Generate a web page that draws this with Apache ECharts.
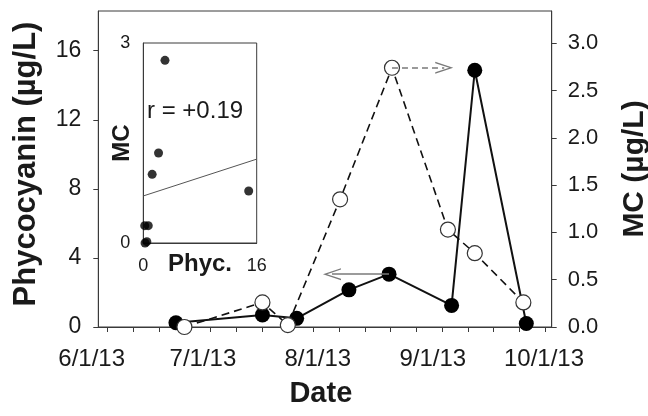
<!DOCTYPE html>
<html><head><meta charset="utf-8">
<script src="https://cdn.jsdelivr.net/npm/echarts@6/dist/echarts.min.js"></script>
<style>html,body{margin:0;padding:0;background:#fff}#c{width:648px;height:416px}</style>
</head><body><div id="c"></div>
<script>
// ---- data (days counted from 6/1/13) ----
const dateTickLabels = ['6/1/13', '7/1/13', '8/1/13', '9/1/13', '10/1/13'];
const dateTickDays = [0, 30, 61, 92, 122];
const weekTickDays = [3.75, 10.75, 17.75, 24.75, 31.75, 38.75, 45.75, 52.75, 59.75,
                      66.75, 73.75, 80.75, 87.75, 94.75, 101.75, 108.75, 115.75, 122.75];
const phycDays = [22.4, 45.9, 55.2, 69.4, 80.3, 97.3, 103.6, 117.6];
const phycValues = [0.25, 0.7, 0.5, 2.15, 3.06, 1.25, 14.87, 0.2];
const mcDays = [24.7, 45.9, 52.8, 67.0, 81.1, 96.3, 103.6, 116.8];
const mcValues = [0.0, 0.26, 0.02, 1.35, 2.74, 1.03, 0.78, 0.26];
const leftTicks = [0, 4, 8, 12, 16];
const rightTicks = [0, 0.5, 1.0, 1.5, 2.0, 2.5, 3.0];
const insetXTicks = [0, 16];
const insetYTicks = [0, 3];
const corrText = 'r = +0.19';
// arrows: start at a data point, end at a date (day)
const phycArrow = {pointIndex: 4, endDay: 64.8};
const mcArrow = {pointIndex: 4, endDay: 95.3};

const FONT = 'Liberation Sans, Arial, sans-serif';
const TXT = '#1a1a1a';
const AX = '#3a3a3a';

const phycData = phycDays.map((d, i) => [d, phycValues[i]]);
const mcData = mcDays.map((d, i) => [d, mcValues[i]]);
const insetData = phycValues.map((p, i) => [p, mcValues[i]]);

// least-squares trend line for the inset
const n = insetData.length;
const mx = insetData.reduce((s, p) => s + p[0], 0) / n;
const my = insetData.reduce((s, p) => s + p[1], 0) / n;
let sxy = 0, sxx = 0;
insetData.forEach(p => { sxy += (p[0] - mx) * (p[1] - my); sxx += (p[0] - mx) * (p[0] - mx); });
const slope = sxy / sxx, icpt = my - slope * mx;
const trend = [[0, icpt], [16, icpt + slope * 16]];

const chevron = 'path://M0,14 L6,0 L12,14 L10.6,14 L6,3.2 L1.4,14 Z';

const chart = echarts.init(document.getElementById('c'), null, {renderer: 'canvas'});
chart.setOption({
  animation: false,
  backgroundColor: '#fff',
  textStyle: {fontFamily: FONT, color: TXT},
  grid: [
    {left: 98.3, right: 96.3, top: 11, bottom: 89, show: true, borderColor: AX, borderWidth: 1,
     containLabel: false, outerBoundsMode: 'none'},
    {left: 91.7, right: 104, top: 11, bottom: 89, containLabel: false, outerBoundsMode: 'none'},
    {left: 143.3, right: 391.3, top: 43, bottom: 173, show: true, borderColor: AX, borderWidth: 1,
     backgroundColor: '#fff', containLabel: false, outerBoundsMode: 'none'}
  ],
  xAxis: [
    {gridIndex: 0, type: 'value', min: 1.3, max: 124.5,
     axisLine: {show: true, lineStyle: {color: AX, width: 1}},
     axisTick: {show: true, customValues: weekTickDays, length: 5, inside: false, lineStyle: {color: AX}},
     axisLabel: {show: false}, splitLine: {show: false}},
    {gridIndex: 1, type: 'value', min: 0, max: 122,
     axisLine: {show: false}, axisTick: {show: false}, splitLine: {show: false},
     axisLabel: {show: true, customValues: dateTickDays, margin: 20,
       fontSize: 24, fontFamily: FONT, color: TXT,
       formatter: v => dateTickLabels[dateTickDays.indexOf(v)] || ''},
     name: 'Date', nameLocation: 'middle', nameGap: 52, nameMoveOverlap: false,
     nameTextStyle: {fontSize: 29, fontWeight: 'bold', fontFamily: FONT, color: TXT, padding: [0, 0, 0, 6]}},
    {gridIndex: 2, type: 'value', min: 0, max: 16,
     axisLine: {show: true, lineStyle: {color: AX}}, axisTick: {show: false}, splitLine: {show: false},
     axisLabel: {customValues: insetXTicks, margin: 14, fontSize: 18, fontFamily: FONT, color: TXT},
     name: 'Phyc.', nameLocation: 'middle', nameGap: 9, nameMoveOverlap: false,
     nameTextStyle: {fontSize: 24, fontWeight: 'bold', fontFamily: FONT, color: TXT}}
  ],
  yAxis: [
    {gridIndex: 0, type: 'value', position: 'left', min: 0, max: 18.3,
     axisLine: {show: true, lineStyle: {color: AX}},
     axisTick: {show: true, customValues: leftTicks, length: 5, lineStyle: {color: AX}},
     axisLabel: {customValues: leftTicks, margin: 17, fontSize: 23, fontFamily: FONT, color: TXT},
     splitLine: {show: false},
     name: 'Phycocyanin (\u00b5g/L)', nameLocation: 'middle', nameRotate: 90, nameGap: 56, nameMoveOverlap: false,
     nameTextStyle: {fontSize: 31, fontWeight: 'bold', fontFamily: FONT, color: TXT, padding: [0, 0, 0, 10]}},
    {gridIndex: 0, type: 'value', position: 'right', min: 0, max: 3.34,
     axisLine: {show: true, lineStyle: {color: AX}},
     axisTick: {show: true, customValues: rightTicks, length: 5, lineStyle: {color: AX}},
     axisLabel: {customValues: rightTicks, margin: 16, fontSize: 22, fontFamily: FONT, color: TXT,
       formatter: v => v.toFixed(1)},
     splitLine: {show: false},
     name: 'MC (\u00b5g/L)', nameLocation: 'middle', nameRotate: 90, nameGap: 68, nameMoveOverlap: false,
     nameTextStyle: {fontSize: 30, fontWeight: 'bold', fontFamily: FONT, color: TXT}},
    {gridIndex: 2, type: 'value', min: 0, max: 3,
     axisLine: {show: true, lineStyle: {color: AX}}, axisTick: {show: false}, splitLine: {show: false},
     axisLabel: {customValues: insetYTicks, margin: 13, fontSize: 18, fontFamily: FONT, color: TXT},
     name: 'MC', nameLocation: 'middle', nameRotate: 90, nameGap: 9, nameMoveOverlap: false,
     nameTextStyle: {fontSize: 24, fontWeight: 'bold', fontFamily: FONT, color: TXT}},
    {gridIndex: 1, type: 'value', show: false, min: 0, max: 1}
  ],
  series: [
    {name: 'Phycocyanin', type: 'line', xAxisIndex: 0, yAxisIndex: 0, data: phycData,
     symbol: 'circle', symbolSize: 15, z: 3,
     itemStyle: {color: '#000'}, lineStyle: {color: '#111', width: 2},
     markLine: {silent: true, symbol: ['none', chevron], symbolSize: [12, 18], label: {show: false},
       lineStyle: {color: '#7a7a7a', width: 1.6, type: 'solid'},
       data: [[{coord: phycData[phycArrow.pointIndex]}, {coord: [phycArrow.endDay, phycData[phycArrow.pointIndex][1]]}]]}},
    {name: 'MC', type: 'line', xAxisIndex: 0, yAxisIndex: 1, data: mcData,
     symbol: 'circle', symbolSize: 15, z: 4,
     itemStyle: {color: '#fff', borderColor: '#333', borderWidth: 1.2},
     lineStyle: {color: '#111', width: 1.6, type: [8, 5]},
     markLine: {silent: true, symbol: ['none', chevron], symbolSize: [12, 18], label: {show: false},
       lineStyle: {color: '#7a7a7a', width: 1.6, type: [6, 4]},
       data: [[{coord: mcData[mcArrow.pointIndex]}, {coord: [mcArrow.endDay, mcData[mcArrow.pointIndex][1]]}]]}},
    {name: 'inset', type: 'scatter', xAxisIndex: 2, yAxisIndex: 2, data: insetData,
     symbol: 'circle', symbolSize: 9, itemStyle: {color: '#000'}, z: 5},
    {name: 'trend', type: 'line', xAxisIndex: 2, yAxisIndex: 2, data: trend,
     showSymbol: false, lineStyle: {color: '#555', width: 1}, z: 4}
  ],
  graphic: [
    {type: 'text', left: 147, top: 99, z: 10,
     style: {text: corrText, fontSize: 24, fontFamily: FONT, fill: TXT}}
  ]
});
</script></body></html>
